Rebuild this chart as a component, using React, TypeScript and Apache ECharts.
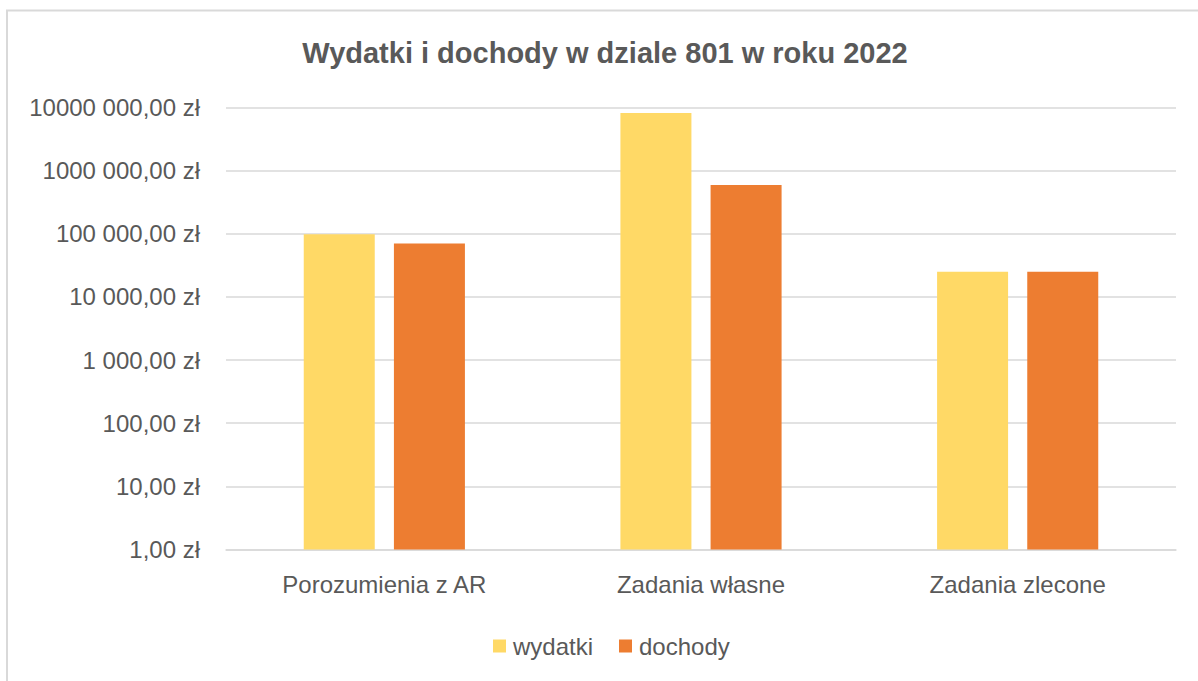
import React, { useEffect, useRef } from "react";
import * as echarts from "echarts";

const categories = ["Porozumienia z AR", "Zadania własne", "Zadania zlecone"];
const wydatki = [98000, 8200000, 25000];
const dochody = [70000, 590000, 25000];
const seriesNames = ["wydatki", "dochody"];
const yTickLabels = [
  "1,00 zł",
  "10,00 zł",
  "100,00 zł",
  "1 000,00 zł",
  "10 000,00 zł",
  "100 000,00 zł",
  "1000 000,00 zł",
  "10000 000,00 zł",
];
const titleText = "Wydatki i dochody w dziale 801 w roku 2022";

const FONT = "'Liberation Sans', Arial, sans-serif";
const TEXT = "#595959";

export default function App() {
  const ref = useRef<HTMLDivElement>(null);
  useEffect(() => {
    if (!ref.current) return;
    const chart = echarts.init(ref.current, undefined, { renderer: "svg" });
    chart.setOption({
      animation: false,
      backgroundColor: "#ffffff",
      textStyle: { fontFamily: FONT },
      graphic: [
        {
          type: "rect",
          shape: { x: 7, y: 10.5, width: 1220, height: 720 },
          style: { fill: "none", stroke: "#d9d9d9", lineWidth: 2 },
          silent: true,
        },
        {
          type: "text",
          x: 605,
          y: 53,
          style: {
            text: titleText,
            align: "center",
            verticalAlign: "middle",
            fontFamily: FONT,
            fontWeight: "bold",
            fontSize: 29,
            fill: TEXT,
          },
        },
      ],
      legend: {
        data: seriesNames,
        left: 488,
        top: 629,
        icon: "rect",
        itemWidth: 13,
        itemHeight: 13,
        itemGap: 26,
        textStyle: { fontFamily: FONT, fontSize: 24, color: TEXT, padding: [0, 0, 0, 2] },
      },
      grid: { left: 226, right: 22, top: 107.5, bottom: 131.5 },
      xAxis: {
        type: "category",
        data: categories,
        axisLine: { show: true, lineStyle: { color: "#d9d9d9", width: 1.5 } },
        axisTick: { show: false },
        axisLabel: { color: TEXT, fontSize: 24, fontFamily: FONT, margin: 23 },
      },
      yAxis: {
        type: "log",
        logBase: 10,
        min: 1,
        max: 10000000,
        axisLine: { show: false },
        axisTick: { show: false },
        splitLine: { lineStyle: { color: "#d9d9d9", width: 1.5 } },
        axisLabel: {
          color: TEXT,
          fontSize: 24,
          fontFamily: FONT,
          margin: 26,
          formatter: (v: number) => yTickLabels[Math.round(Math.log10(v))] ?? "",
        },
      },
      series: [
        {
          name: seriesNames[0],
          type: "bar",
          data: wydatki,
          barWidth: 71,
          barGap: "27%",
          itemStyle: { color: "#FFD966" },
        },
        {
          name: seriesNames[1],
          type: "bar",
          data: dochody,
          barWidth: 71,
          itemStyle: { color: "#ED7D31" },
        },
      ],
    });
    return () => chart.dispose();
  }, []);
  return (
    <div
      ref={ref}
      style={{ position: "fixed", left: 0, top: 0, width: 1198, height: 681 }}
    />
  );
}
